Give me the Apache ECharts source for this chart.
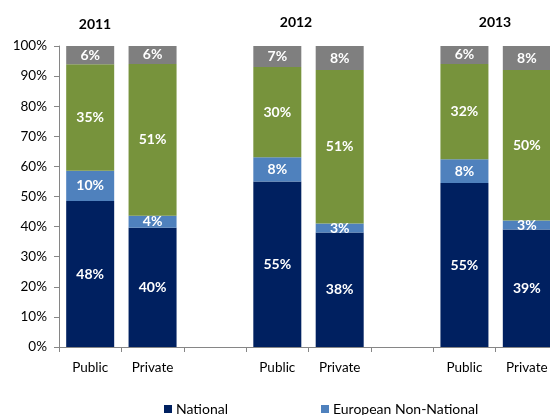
<!DOCTYPE html>
<html>
<head>
<meta charset="utf-8">
<script src="https://cdn.jsdelivr.net/npm/echarts@6/dist/echarts.min.js"></script>
<style>html,body{margin:0;padding:0;background:#fff;}#c{width:550px;height:415px;}</style>
</head>
<body>
<div id="c"></div>
<script>
var categories = ['Public', 'Private', '', 'Public', 'Private', '', 'Public', 'Private'];
var years = ['2011', '2012', '2013'];
var seriesNames = ['National', 'European Non-National', 'Non-European', 'Unknown'];
var national = [48, 40, null, 55, 38, null, 55, 39];
var european = [10, 4, null, 8, 3, null, 8, 3];
var nonEuropean = [35, 51, null, 30, 51, null, 32, 50];
var unknown = [6, 6, null, 7, 8, null, 6, 8];
var yTicks = [0, 10, 20, 30, 40, 50, 60, 70, 80, 90, 100];

var raw = [national, european, nonEuropean, unknown];
var colors = ['#002060', '#4f81bd', '#77933c', '#7f7f7f'];
var font = 'Lato, "Open Sans", sans-serif';

var totals = categories.map(function (c, i) {
  var s = 0; raw.forEach(function (r) { if (r[i] != null) s += r[i]; }); return s;
});

var series = raw.map(function (arr, k) {
  return {
    name: seriesNames[k],
    type: 'bar',
    stack: 'all',
    barWidth: 48,
    itemStyle: { color: colors[k] },
    label: {
      show: true,
      position: 'inside',
      color: '#fff',
      fontWeight: 'bold',
      fontSize: 14,
      fontFamily: font,
      formatter: function (p) { return p.data.orig + '%'; }
    },
    data: arr.map(function (v, i) {
      return v == null ? '-' : { value: v / totals[i] * 100, orig: v };
    })
  };
});

var chart = echarts.init(document.getElementById('c'));
chart.setOption({
  animation: false,
  backgroundColor: '#fff',
  grid: { left: 59, right: -8, top: 46, bottom: 68, outerBoundsMode: 'none', containLabel: false },
  xAxis: {
    type: 'category',
    data: categories,
    axisLine: { lineStyle: { color: '#868686' } },
    axisTick: { show: true, length: 5, lineStyle: { color: '#868686' } },
    axisLabel: { color: '#000', fontSize: 13.5, fontFamily: font, margin: 14, interval: 0 }
  },
  yAxis: {
    type: 'value',
    min: yTicks[0],
    max: yTicks[yTicks.length - 1],
    interval: 10,
    splitLine: { show: false },
    axisLine: { show: true, lineStyle: { color: '#868686' } },
    axisTick: { show: true, length: 5, lineStyle: { color: '#868686' } },
    axisLabel: { color: '#000', fontSize: 13.5, fontFamily: font, margin: 12, formatter: '{value}%' }
  },
  legend: [
    { data: [seriesNames[0]], left: 164, top: 402, itemWidth: 8, itemHeight: 8, itemGap: 5, icon: 'rect', padding: 0,
      textStyle: { color: '#000', fontSize: 14, fontFamily: font, padding: [0, 0, 0, -1] }, selectedMode: false },
    { data: [seriesNames[1]], left: 321, top: 402, itemWidth: 8, itemHeight: 8, icon: 'rect', padding: 0,
      textStyle: { color: '#000', fontSize: 14, fontFamily: font, padding: [0, 0, 0, -1] }, selectedMode: false }
  ],
  graphic: [
    { type: 'text', x: 95, y: 24, style: { text: years[0], font: 'bold 14px ' + font, fill: '#000', textAlign: 'center', textVerticalAlign: 'middle' } },
    { type: 'text', x: 296, y: 22, style: { text: years[1], font: 'bold 14px ' + font, fill: '#000', textAlign: 'center', textVerticalAlign: 'middle' } },
    { type: 'text', x: 495, y: 22, style: { text: years[2], font: 'bold 14px ' + font, fill: '#000', textAlign: 'center', textVerticalAlign: 'middle' } }
  ],
  series: series
});
</script>
</body>
</html>
